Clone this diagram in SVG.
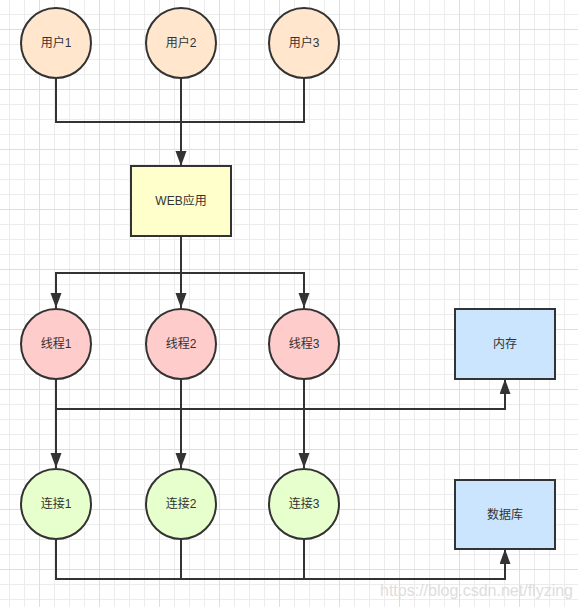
<svg xmlns="http://www.w3.org/2000/svg" width="578" height="607" viewBox="0 0 578 607">
<defs>
<pattern id="grid" patternUnits="userSpaceOnUse" x="39" y="29" width="60" height="60">
<rect x="0" y="0" width="60" height="60" fill="#ffffff"/>
<g fill="#ececec">
<rect x="15" y="0" width="1" height="60"/><rect x="30" y="0" width="1" height="60"/><rect x="45" y="0" width="1" height="60"/>
<rect x="0" y="15" width="60" height="1"/><rect x="0" y="30" width="60" height="1"/><rect x="0" y="45" width="60" height="1"/>
</g>
<g fill="#dedede">
<rect x="0" y="0" width="1" height="60"/><rect x="0" y="0" width="60" height="1"/>
</g>
</pattern>
<marker id="arrow" markerUnits="userSpaceOnUse" markerWidth="16" markerHeight="12" refX="15" refY="5.5" orient="auto">
<path d="M0,0 L15,5.5 L0,11 Z" fill="#333333"/>
</marker>
<style>
.node{stroke:#333333;stroke-width:2}
.user{fill:#ffe6cc}
.web{fill:#ffffcc}
.thread{fill:#ffcccc}
.conn{fill:#e6ffcc}
.store{fill:#cce5ff}
.lbl{font-family:"Liberation Sans","Noto Sans CJK SC",sans-serif;font-size:12px;fill:#333333;text-anchor:middle;dominant-baseline:central}
.edge{fill:none;stroke:#333333;stroke-width:2}
</style>
</defs>
<rect width="578" height="607" fill="url(#grid)"/>
<g id="connectors">
<path class="edge" d="M56 78 V122 H304 V78"/>
<path class="edge" d="M181 78 V122"/>
<path class="edge" d="M181 122 V166" marker-end="url(#arrow)"/>
<path class="edge" d="M181 236 V273"/>
<path class="edge" d="M56 308 V273 H304 V308" marker-end="url(#arrow)"/>
<path class="edge" d="M56 273 V308" marker-end="url(#arrow)"/>
<path class="edge" d="M181 273 V308" marker-end="url(#arrow)"/>
<path class="edge" d="M56 409 H505 V379" marker-end="url(#arrow)"/>
<path class="edge" d="M56 379 V468" marker-end="url(#arrow)"/>
<path class="edge" d="M181 379 V468" marker-end="url(#arrow)"/>
<path class="edge" d="M304 379 V468" marker-end="url(#arrow)"/>
<path class="edge" d="M56 539 V579 H505 V549" marker-end="url(#arrow)"/>
<path class="edge" d="M181 539 V579"/>
<path class="edge" d="M304 539 V579"/>
</g>
<g id="user1"><circle class="node user" cx="56" cy="43" r="35"/><text class="lbl" x="56" y="43">用户1</text></g>
<g id="user2"><circle class="node user" cx="181" cy="43" r="35"/><text class="lbl" x="181" y="43">用户2</text></g>
<g id="user3"><circle class="node user" cx="304" cy="43" r="35"/><text class="lbl" x="304" y="43">用户3</text></g>
<g id="web"><rect class="node web" x="131" y="166" width="100" height="70"/><text class="lbl" x="181" y="201">WEB应用</text></g>
<g id="thread1"><circle class="node thread" cx="56" cy="344" r="35"/><text class="lbl" x="56" y="344">线程1</text></g>
<g id="thread2"><circle class="node thread" cx="181" cy="344" r="35"/><text class="lbl" x="181" y="344">线程2</text></g>
<g id="thread3"><circle class="node thread" cx="304" cy="344" r="35"/><text class="lbl" x="304" y="344">线程3</text></g>
<g id="memory"><rect class="node store" x="455" y="309" width="100" height="70"/><text class="lbl" x="505" y="344">内存</text></g>
<g id="conn1"><circle class="node conn" cx="56" cy="504" r="35"/><text class="lbl" x="56" y="504">连接1</text></g>
<g id="conn2"><circle class="node conn" cx="181" cy="504" r="35"/><text class="lbl" x="181" y="504">连接2</text></g>
<g id="conn3"><circle class="node conn" cx="304" cy="504" r="35"/><text class="lbl" x="304" y="504">连接3</text></g>
<g id="database"><rect class="node store" x="455" y="480" width="100" height="69"/><text class="lbl" x="505" y="515">数据库</text></g>
<text x="380" y="596" font-family="'Liberation Sans',sans-serif" font-size="16" fill="#dddddd">https://blog.csdn.net/flyzing</text>
</svg>
